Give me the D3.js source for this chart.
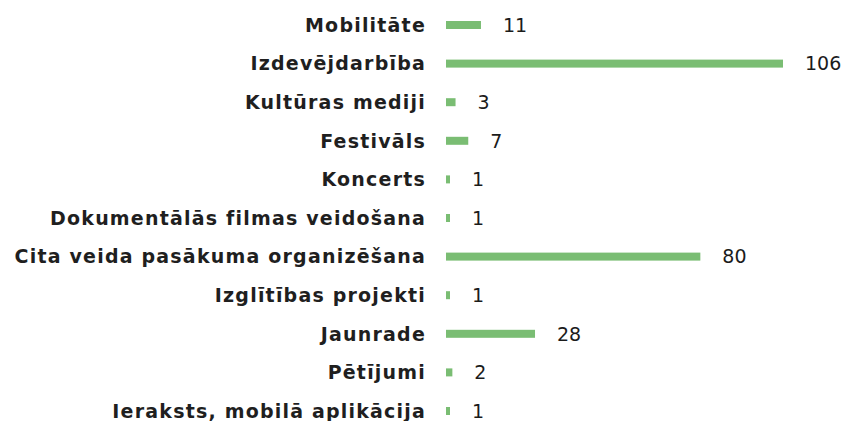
<!DOCTYPE html>
<html>
<head>
<meta charset="utf-8">
<script src="https://cdn.jsdelivr.net/npm/d3@7"></script>
<style>
  body { margin: 0; background: #fff; }
  svg text { font-family: "DejaVu Sans", sans-serif; }
</style>
</head>
<body>
<div id="chart"></div>
<script>
const categories = ["Mobilitāte", "Izdevējdarbība", "Kultūras mediji", "Festivāls", "Koncerts",
    "Dokumentālās filmas veidošana", "Cita veida pasākuma organizēšana", "Izglītības projekti",
    "Jaunrade", "Pētījumi", "Ieraksts, mobilā aplikācija"];
const values = [11, 106, 3, 7, 1, 1, 80, 1, 28, 2, 1];

const width = 849, height = 421;
const svg = d3.select("#chart").append("svg")
    .attr("width", width)
    .attr("height", height);

// scales
const x = d3.scaleLinear().domain([0, 106]).range([446, 783]);
const y = d3.scalePoint().domain(categories).range([25, 411]);
const barH = 8;

// bars
svg.selectAll(".bar")
    .data(categories)
    .enter().append("rect")
    .attr("class", "bar")
    .attr("x", x(0))
    .attr("y", d => y(d) - barH / 2)
    .attr("width", (d, i) => Math.max(4, x(values[i]) - x(0)))
    .attr("height", barH)
    .attr("fill", "#7abd73");

// category labels
svg.selectAll(".cat")
    .data(categories)
    .enter().append("text")
    .attr("class", "cat")
    .attr("x", 426)
    .attr("y", d => y(d))
    .attr("dy", "0.36em")
    .attr("text-anchor", "end")
    .attr("font-size", 19)
    .attr("font-weight", 700)
    .attr("letter-spacing", 1.2)
    .attr("fill", "#1f1f1f")
    .text(d => d);

// value labels
svg.selectAll(".val")
    .data(categories)
    .enter().append("text")
    .attr("class", "val")
    .attr("x", (d, i) => x(0) + Math.max(4, x(values[i]) - x(0)) + 22)
    .attr("y", d => y(d))
    .attr("dy", "0.36em")
    .attr("font-size", 19)
    .attr("fill", "#1b1b1b")
    .text((d, i) => values[i]);
</script>
</body>
</html>
